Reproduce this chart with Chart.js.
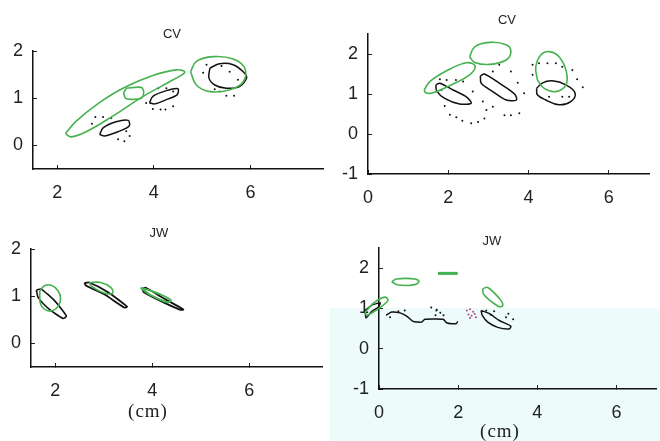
<!DOCTYPE html>
<html>
<head>
<meta charset="utf-8">
<script src="https://cdn.jsdelivr.net/npm/chart.js@4.4.0/dist/chart.umd.min.js"></script>
<style>
  body { margin: 0; background: #fff; }
  #wrap { position: relative; width: 660px; height: 441px; overflow: hidden; font-family: "Liberation Sans", Arial, sans-serif; }
  .panel { position: absolute; }
  .cyan { position: absolute; left: 330px; top: 308px; width: 330px; height: 133px; background: #edfbfb; }
  .ttl { position: absolute; font-size: 13px; color: #222; transform: translateX(-50%); white-space: nowrap; }
  .unit { position: absolute; font-family: "Liberation Serif", serif; font-size: 19px; letter-spacing: 1px; color: #222; transform: translateX(-50%); white-space: nowrap; }
</style>
</head>
<body>
<div id="wrap">
  <div class="cyan"></div>
  <div class="panel" style="left:0;top:0;width:330px;height:210px"><canvas id="cv1"></canvas></div>
  <div class="panel" style="left:330px;top:0;width:330px;height:210px"><canvas id="cv2"></canvas></div>
  <div class="panel" style="left:0;top:210px;width:330px;height:231px"><canvas id="jw1"></canvas></div>
  <div class="panel" style="left:330px;top:210px;width:330px;height:231px"><canvas id="jw2"></canvas></div>
  <div class="ttl" style="left:172px;top:26px">CV</div>
  <div class="ttl" style="left:507px;top:12px">CV</div>
  <div class="ttl" style="left:159px;top:225px">JW</div>
  <div class="ttl" style="left:492px;top:233px">JW</div>
  <div class="unit" style="left:148px;top:400px">(cm)</div>
  <div class="unit" style="left:500px;top:420px">(cm)</div>
</div>
<script>
// tick values
const xTicksA = [2, 4, 6];
const yTicksA = [0, 1, 2];
const xTicksB = [0, 2, 4, 6];
const yTicksB = [-1, 0, 1, 2];

// ---- CV, left panel (outline points)
const cv1GreenBig = [[2.17,0.25],[2.39,0.51],[2.81,0.86],[3.36,1.21],[3.98,1.48],[4.47,1.60],[4.64,1.55],[4.40,1.39],[3.78,1.04],[3.15,0.62],[2.60,0.29],[2.29,0.18]];
const cv1GreenBox = [[3.43,1.21],[3.74,1.23],[3.79,1.13],[3.74,1.00],[3.43,0.99],[3.38,1.11]];
const cv1GreenRound = [[4.76,1.56],[4.88,1.78],[5.23,1.88],[5.64,1.83],[5.88,1.64],[5.85,1.35],[5.57,1.18],[5.16,1.14],[4.88,1.28]];
const cv1BlackRound = [[5.16,1.64],[5.36,1.73],[5.64,1.71],[5.85,1.56],[5.92,1.43],[5.78,1.25],[5.50,1.21],[5.26,1.28],[5.14,1.43]];
const cv1BlackMid = [[3.91,0.90],[3.98,1.04],[4.26,1.16],[4.50,1.20],[4.48,1.07],[4.26,0.97],[4.02,0.88]];
const cv1BlackLow = [[2.88,0.23],[2.95,0.37],[3.22,0.50],[3.47,0.53],[3.49,0.41],[3.26,0.29],[2.98,0.20]];
const cv1Dots = [[2.79,0.60],[2.95,0.60],[3.12,0.58],[2.72,0.46],[3.43,0.30],[3.50,0.20],[3.26,0.13],[3.39,0.09],
  [4.09,1.21],[4.26,1.21],[4.40,1.14],[3.84,0.90],[3.98,0.77],[4.14,0.76],[4.24,0.76],[4.40,0.83],
  [5.09,1.71],[5.40,1.68],[5.57,1.56],[5.02,1.54],[5.74,1.39],[5.26,1.19],[5.36,1.14],[5.50,1.05],[5.66,1.05]];

// ---- CV, right panel
const cv2GreenTop = [[2.53,1.93],[2.66,2.18],[3.03,2.29],[3.44,2.23],[3.56,2.06],[3.44,1.85],[3.03,1.74],[2.66,1.79]];
const cv2GreenLong = [[1.40,1.10],[1.54,1.31],[1.96,1.58],[2.45,1.78],[2.67,1.70],[2.53,1.48],[2.08,1.23],[1.62,1.03],[1.44,1.03]];
const cv2BlackLeft = [[1.69,1.23],[1.79,1.27],[2.12,1.10],[2.45,0.93],[2.57,0.77],[2.28,0.75],[1.91,0.89],[1.71,1.08]];
const cv2BlackMid = [[2.80,1.45],[2.90,1.50],[3.27,1.27],[3.65,1.00],[3.70,0.85],[3.44,0.85],[3.11,1.06],[2.82,1.27]];
const cv2GreenRight = [[4.22,1.35],[4.18,1.68],[4.31,1.98],[4.51,2.06],[4.76,1.93],[4.94,1.56],[4.93,1.23],[4.68,1.06],[4.39,1.14]];
const cv2BlackRight = [[4.20,1.14],[4.35,1.28],[4.59,1.33],[4.93,1.23],[5.16,1.02],[5.05,0.81],[4.76,0.73],[4.43,0.85],[4.22,0.98]];
const cv2Dots = [[1.79,1.37],[1.96,1.35],[2.19,1.35],[2.37,1.31],[1.83,1.10],[1.91,0.70],[2.04,0.48],[2.20,0.42],
  [2.35,0.33],[2.57,0.27],[2.74,0.30],[2.90,0.39],[2.95,0.60],[3.11,0.68],[3.27,1.73],[3.11,1.56],[3.56,1.56],
  [3.73,1.28],[3.89,1.02],[3.77,0.52],[3.56,0.47],[3.40,0.47],[2.86,0.81],[2.61,1.06],[4.10,1.73],[4.26,1.77],
  [4.47,1.77],[4.68,1.77],[4.84,1.68],[4.10,1.48],[5.09,1.60],[5.21,1.37],[5.35,1.17],[4.51,0.93],[4.84,0.93],[5.01,0.93]];

// ---- JW, left panel
const jw1GreenLeft = [[1.68,1.11],[1.78,1.22],[1.92,1.23],[2.06,1.11],[2.11,0.94],[2.02,0.74],[1.85,0.69],[1.70,0.83]];
const jw1BlackLeft = [[1.61,1.13],[1.71,1.15],[1.99,0.90],[2.23,0.58],[2.16,0.53],[1.88,0.72],[1.65,0.97]];
const jw1GreenMid = [[2.70,1.29],[2.94,1.29],[3.15,1.18],[3.18,1.06],[2.98,1.08],[2.74,1.22]];
const jw1BlackMid = [[2.60,1.28],[2.70,1.29],[3.08,1.09],[3.48,0.78],[3.42,0.76],[3.01,1.04],[2.64,1.22]];
const jw1GreenRight = [[3.76,1.18],[4.04,1.09],[4.38,0.92],[4.31,0.87],[3.97,1.02]];
const jw1BlackRight = [[3.80,1.16],[3.87,1.18],[4.24,0.95],[4.64,0.72],[4.58,0.71],[4.17,0.90],[3.82,1.09]];

// ---- JW, right panel
const jw2GreenFlat = [[0.32,1.66],[0.44,1.73],[0.82,1.74],[1.01,1.68],[0.90,1.59],[0.49,1.58]];
const jw2GreenBar = [[1.49,1.87],[1.99,1.87]];
const jw2GreenDiag = [[2.62,1.49],[2.75,1.52],[3.08,1.20],[3.12,1.06],[3.00,1.06],[2.65,1.34]];
const jw2GreenLeft = [[-0.35,0.91],[-0.10,1.16],[0.15,1.28],[0.23,1.20],[-0.02,0.99],[-0.31,0.83]];
const jw2BlackLeft = [[-0.35,0.95],[-0.18,1.08],[0.03,1.14],[-0.02,1.03],[-0.18,0.93],[-0.33,0.76]];
const jw2BlackWave = [[0.18,0.83],[0.32,0.91],[0.53,0.89],[0.70,0.81],[0.86,0.68],[1.07,0.66],[1.16,0.73],[1.36,0.74],[1.62,0.73],[1.72,0.64],[1.95,0.62],[1.99,0.68]];
const jw2BlackRight = [[2.58,0.95],[2.79,0.87],[3.04,0.70],[3.33,0.56],[3.29,0.49],[3.00,0.53],[2.75,0.66],[2.61,0.83]];
const jw2Dots = [[0.28,0.78],[0.65,0.95],[0.49,0.93],[1.45,0.95],[1.55,0.89],[1.43,0.83],[1.63,0.83],[1.32,1.02],[1.46,0.97],
  [2.71,0.95],[2.83,0.84],[2.91,0.93],[3.21,0.78],[3.27,0.87],[3.39,0.73]];
const jw2Pink = [[2.22,0.95],[2.30,0.98],[2.38,0.92],[2.26,0.85],[2.34,0.82],[2.42,0.86],[2.30,0.76],[2.45,0.78]];

const GREEN = '#45b24f';
const BLACK = '#111';
const FONT = '"Liberation Sans", Arial, sans-serif';

function shape(pts, color, width, closed, tension) {
  const list = closed ? pts.concat([pts[0]]) : pts;
  return {
    data: list.map(p => ({x: p[0], y: p[1]})),
    showLine: true,
    borderColor: color,
    borderWidth: width,
    pointRadius: 0,
    tension: tension,
    fill: false,
    clip: false
  };
}

function dots(pts, color) {
  return {
    data: pts.map(p => ({x: p[0], y: p[1]})),
    showLine: false,
    pointRadius: 1,
    pointBorderWidth: 0,
    backgroundColor: color,
    clip: false
  };
}

function axis(min, max, ticks, fitSize, isX) {
  return {
    type: 'linear',
    min: min,
    max: max,
    afterBuildTicks: s => { s.ticks = ticks.map(v => ({value: v})); },
    afterFit: s => { if (isX) s.height = fitSize; else s.width = fitSize; },
    grid: {display: true, drawOnChartArea: false, drawTicks: true, tickLength: -4, color: '#222', lineWidth: 1},
    border: {display: true, color: BLACK, width: 1.5},
    ticks: {color: '#222', font: {family: FONT, size: 18}, padding: isX ? 17 : 14, autoSkip: false, maxRotation: 0}
  };
}

function makeChart(id, datasets, xr, yr, xT, yT, pad, yW, xH) {
  const ctx = document.getElementById(id).getContext('2d');
  return new Chart(ctx, {
    type: 'scatter',
    data: {datasets: datasets},
    options: {
      responsive: true,
      maintainAspectRatio: false,
      animation: false,
      events: [],
      layout: {padding: pad},
      plugins: {legend: {display: false}, tooltip: {enabled: false}},
      scales: {
        x: axis(xr[0], xr[1], xT, xH, true),
        y: axis(yr[0], yr[1], yT, yW, false)
      }
    }
  });
}

// chart 1
makeChart('cv1', [
  shape(cv1GreenBig, GREEN, 1.6, true, 0.4),
  shape(cv1GreenBox, GREEN, 1.6, true, 0.3),
  shape(cv1GreenRound, GREEN, 1.6, true, 0.4),
  shape(cv1BlackRound, BLACK, 1.5, true, 0.3),
  shape(cv1BlackMid, BLACK, 1.5, true, 0.3),
  shape(cv1BlackLow, BLACK, 1.5, true, 0.3),
  dots(cv1Dots, BLACK)
], [1.5, 7.5], [-0.5, 2], xTicksA, yTicksA, {left: 0, top: 51, right: 7, bottom: 0}, 33, 41);

// chart 2
makeChart('cv2', [
  shape(cv2GreenTop, GREEN, 1.6, true, 0.4),
  shape(cv2GreenLong, GREEN, 1.6, true, 0.4),
  shape(cv2GreenRight, GREEN, 1.6, true, 0.4),
  shape(cv2BlackLeft, BLACK, 1.5, true, 0.3),
  shape(cv2BlackMid, BLACK, 1.5, true, 0.3),
  shape(cv2BlackRight, BLACK, 1.5, true, 0.4),
  dots(cv2Dots, BLACK)
], [0, 7], [-1, 2.5], xTicksB, yTicksB, {left: 0, top: 34, right: 11, bottom: 0}, 38, 36);

// chart 3
makeChart('jw1', [
  shape(jw1GreenLeft, GREEN, 1.6, true, 0.4),
  shape(jw1GreenMid, GREEN, 1.6, true, 0.4),
  shape(jw1GreenRight, GREEN, 2, true, 0.4),
  shape(jw1BlackLeft, BLACK, 1.6, true, 0.2),
  shape(jw1BlackMid, BLACK, 1.8, true, 0.2),
  shape(jw1BlackRight, BLACK, 1.8, true, 0.2)
], [1.5, 7.5], [-0.5, 2], xTicksA, yTicksA, {left: 0, top: 39, right: 8, bottom: 0}, 31, 74);

// chart 4
makeChart('jw2', [
  shape(jw2GreenFlat, GREEN, 1.6, true, 0.4),
  shape(jw2GreenBar, GREEN, 3, false, 0),
  shape(jw2GreenDiag, GREEN, 1.6, true, 0.4),
  shape(jw2GreenLeft, GREEN, 1.6, true, 0.3),
  shape(jw2BlackLeft, BLACK, 1.5, true, 0.2),
  shape(jw2BlackWave, BLACK, 1.5, false, 0.2),
  shape(jw2BlackRight, BLACK, 1.5, true, 0.3),
  dots(jw2Dots, BLACK),
  dots(jw2Pink, '#b04a7a')
], [0, 7], [-1, 2.5], xTicksB, yTicksB, {left: 0, top: 38, right: 1, bottom: 0}, 49, 52);
</script>
</body>
</html>
